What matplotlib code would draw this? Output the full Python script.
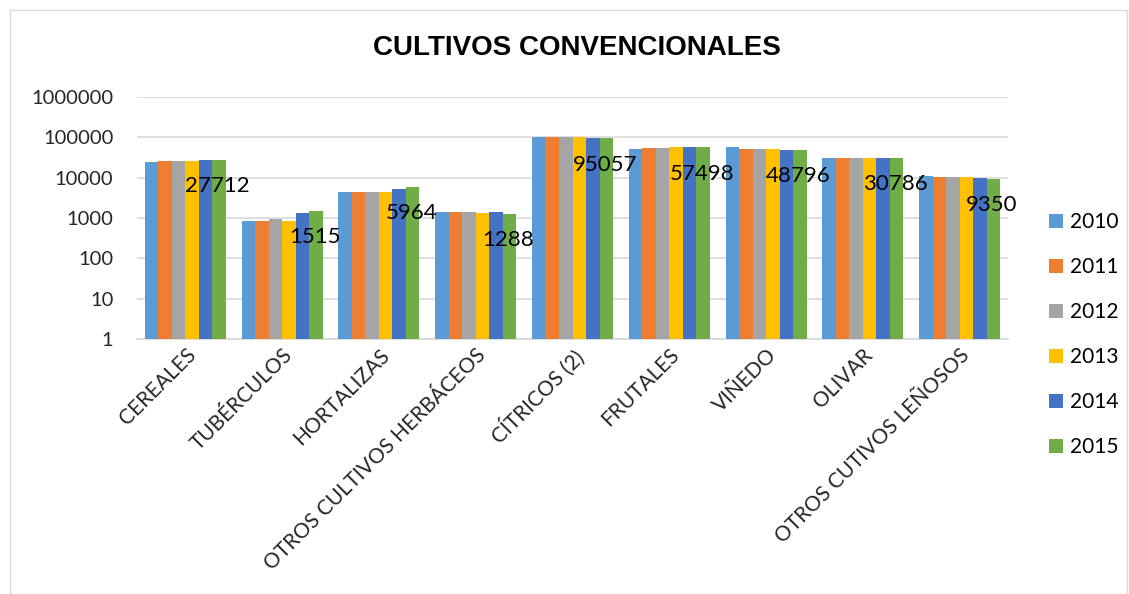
import matplotlib
matplotlib.use("Agg")
import matplotlib.pyplot as plt
from matplotlib.patches import Rectangle
import numpy as np

# Categories and yearly values (log scale in the original)
categories = ["CEREALES", "TUBÉRCULOS", "HORTALIZAS", "OTROS CULTIVOS HERBÁCEOS",
              "CÍTRICOS (2)", "FRUTALES", "VIÑEDO", "OLIVAR", "OTROS CUTIVOS LEÑOSOS"]
years = ["2010", "2011", "2012", "2013", "2014", "2015"]

v2010 = [24700, 830, 4330, 1410, 102600, 50000, 56100, 30500, 10700]
v2011 = [25700, 830, 4400, 1410, 101000, 55000, 50900, 30700, 10400]
v2012 = [25700, 945, 4450, 1380, 100000, 55000, 49800, 30700, 10200]
v2013 = [26000, 850, 4450, 1330, 99000, 57000, 50400, 30700, 10200]
v2014 = [27200, 1330, 5220, 1410, 96000, 57500, 49300, 30700, 10000]
v2015 = [27712, 1515, 5964, 1288, 95057, 57498, 48796, 30786, 9350]

series = [v2010, v2011, v2012, v2013, v2014, v2015]
colors = ["#5b9bd5", "#ed7d31", "#a5a5a5", "#ffc000", "#4472c4", "#70ad47"]

plt.rcParams['font.family'] = ['Lato', 'DejaVu Sans']

fig = plt.figure(figsize=(11.29, 5.94), dpi=100)
ax = fig.add_axes([137 / 1129, 1 - 339.3 / 594, 871 / 1129, (339.3 - 96.7) / 594])

x = np.arange(len(categories))
width = 0.1395
for i, (vals, col, yr) in enumerate(zip(series, colors, years)):
    pos = x + (i - 2.5) * width
    ax.bar(pos, vals, width=width, color=col, label=yr, zorder=3)
    if yr == "2015":
        # only the last year carries data labels
        for px, v in zip(pos, vals):
            ax.annotate(str(v), (px, v), xytext=(-1, -12), textcoords="offset points",
                        ha="center", va="top", fontsize=16, color="black", zorder=4)

ax.set_yscale("log")
ax.set_ylim(1, 1000000)
ax.set_xlim(-0.5, len(categories) - 0.5)
ax.set_yticks([1, 10, 100, 1000, 10000, 100000, 1000000])
ax.set_yticklabels(["1", "10", "100", "1000", "10000", "100000", "1000000"])
ax.minorticks_off()
ax.yaxis.grid(True, color="#d9d9d9", linewidth=1.2, zorder=0)
ax.tick_params(axis="y", length=0, labelsize=14.5, pad=17, colors="#262626")
ax.tick_params(axis="x", length=0, labelsize=15, pad=4, colors="#262626")
ax.set_xticks(x)
ax.set_xticklabels(categories, rotation=45, ha="right", rotation_mode="anchor")
for s in ["top", "right", "left"]:
    ax.spines[s].set_visible(False)
ax.spines["bottom"].set_color("#d9d9d9")
ax.spines["bottom"].set_linewidth(1.2)

fig.text(577 / 1129, 1 - 48 / 594, "CULTIVOS CONVENCIONALES", ha="center", va="center",
         fontsize=20, fontweight="bold", family=["Liberation Sans", "DejaVu Sans"])

ax.legend(loc="upper left", bbox_to_anchor=(1049 / 1129, 1 - 212 / 594),
          bbox_transform=fig.transFigure, frameon=False, fontsize=15,
          borderaxespad=0, borderpad=0,
          handlelength=0.65, handleheight=0.65, labelspacing=1.2, handletextpad=0.35)

fig.patches.append(Rectangle((10 / 1129, 0), 1117 / 1129, 1 - 10 / 594, transform=fig.transFigure,
                             fill=False, edgecolor="#d9d9d9", linewidth=1))

fig.savefig("out.png", dpi=100)
